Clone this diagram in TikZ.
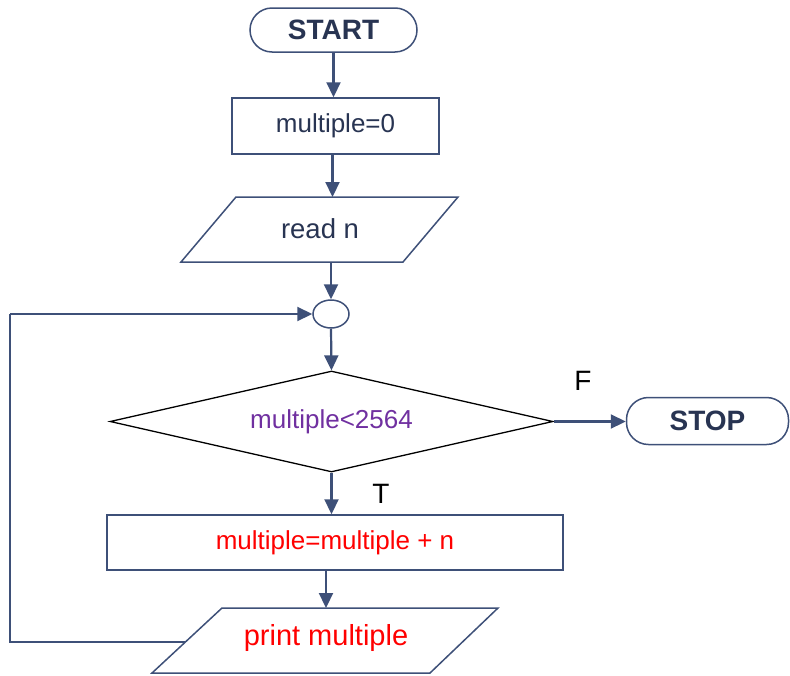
\documentclass[tikz,border=0pt]{standalone}
\usepackage{fontspec}
\setmainfont{Liberation Sans}
\usetikzlibrary{arrows.meta,shapes.geometric}
\definecolor{edge}{RGB}{62,80,120}
\definecolor{ink}{RGB}{40,52,82}
\definecolor{condpurple}{RGB}{112,48,160}
\begin{document}
\begin{tikzpicture}[x=1pt,y=-1pt,
  txt/.style={font=\fontsize{26}{30}\selectfont},
  terminal/.style={draw=edge, line width=1.5pt, rounded corners=22pt, fill=white,
    text=ink, font=\fontsize{28}{32}\selectfont\bfseries, inner sep=0},
  procbox/.style={draw=edge, line width=1.5pt, inner sep=0, txt},
  ioshape/.style={draw=edge, line width=1.5pt, line join=miter},
  flow/.style={draw=edge, line width=2.2pt, -{Triangle[length=15pt,width=14pt]}},
  loopline/.style={draw=edge, line width=1.8pt},
  branch/.style={font=\fontsize{28}{32}\selectfont}
]
\useasboundingbox (0,0) rectangle (790,675);

% terminals and steps
\node[terminal, minimum width=167, minimum height=44] (start) at (333.5,30) {START};
\node[procbox, minimum width=207, minimum height=56, text=ink] (init) at (335.5,126) {multiple=0};

% input parallelogram
\draw[ioshape] (236,197) coordinate (readtop) -- (458,197) -- (403,262) -- (181,262) coordinate (readbot) -- cycle;
\node[txt, text=ink, font=\fontsize{27.5}{32}\selectfont] (read) at (320,229) {read n};

\node[ellipse, draw=edge, line width=1.5pt, minimum width=36, minimum height=28, inner sep=0] (join) at (331,314) {};
\node[diamond, draw=black, line width=1.3pt, minimum width=443, minimum height=101,
      inner sep=0, aspect=4.4, txt, text=condpurple] (test) at (331.5,421.5) {multiple<2564};
\node[terminal, minimum width=162, minimum height=47] (stop) at (707.5,421) {STOP};
\node[procbox, minimum width=456, minimum height=55, text=red] (add) at (335,542.5) {multiple=multiple + n};

% output parallelogram
\draw[ioshape] (222,608) coordinate (outtop) -- (498,608) -- (430,673) -- (152,673) -- cycle;
\coordinate (outleft) at (185,642);
\node[txt, text=red, font=\fontsize{29}{34}\selectfont] (out) at (326,638) {print multiple};

% branch labels
\node[branch] (flabel) at (583,381) {F};
\node[branch] (tlabel) at (381,494) {T};

% connectors
\draw[flow] (start.south) -- (start.south |- init.north);
\draw[flow] ([xshift=-3pt]init.south) -- ([xshift=-3pt]init.south |- readtop);
\draw[flow] (join.north |- readbot) -- (join.north);
\draw[flow] (join.south) -- (test.north);
\draw[flow] (test.east) -- (test.east -| stop.west);
\draw[flow] (test.south) -- (test.south |- add.north);
\draw[flow] ([xshift=-9pt]add.south) -- ([xshift=-9pt]add.south |- outtop);

% loop back to the join point
\coordinate (lb) at (10,0);
\draw[loopline] (outleft) -- (outleft -| lb) -- (join.west -| lb);
\draw[flow] (join.west -| lb) -- (join.west);
\end{tikzpicture}
\end{document}
